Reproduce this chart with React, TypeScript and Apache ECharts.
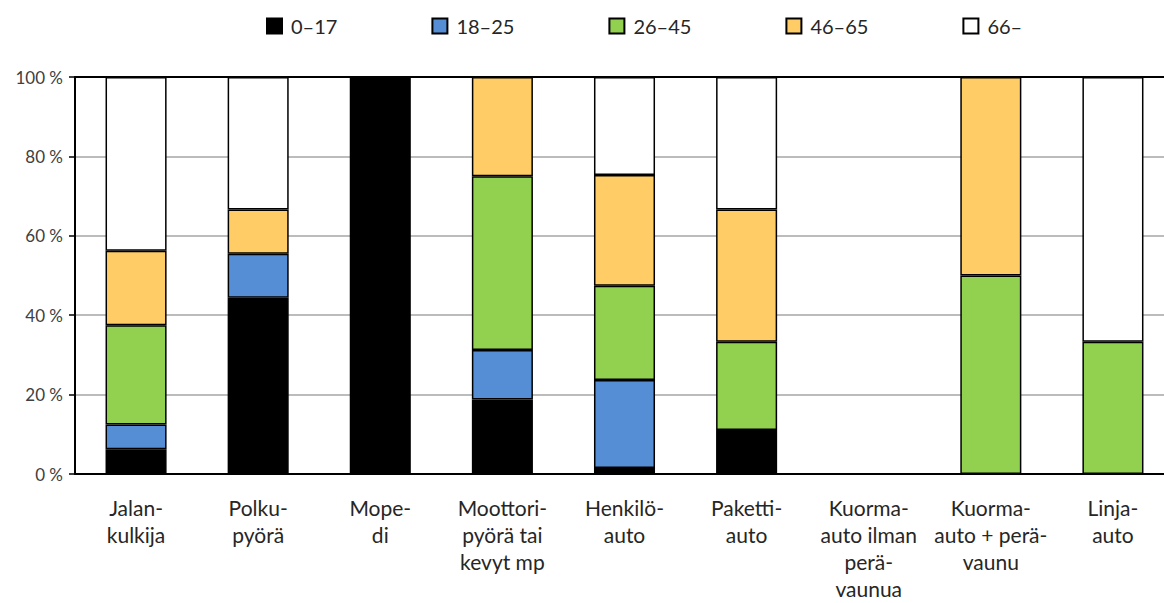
import React, { useEffect, useRef } from "react";
import * as echarts from "echarts";

const categories = [
  "Jalan-\nkulkija",
  "Polku-\npyörä",
  "Mope-\ndi",
  "Moottori-\npyörä tai\nkevyt mp",
  "Henkilö-\nauto",
  "Paketti-\nauto",
  "Kuorma-\nauto ilman\nperä-\nvaunua",
  "Kuorma-\nauto + perä-\nvaunu",
  "Linja-\nauto",
];

const seriesNames = ["0–17", "18–25", "26–45", "46–65", "66–"];

const age0to17 = [6.25, 44.4, 100, 18.75, 1.5, 11.1, null, null, null];
const age18to25 = [6.25, 11.1, null, 12.5, 22.2, null, null, null, null];
const age26to45 = [25, null, null, 43.75, 23.7, 22.2, null, 50, 33.3];
const age46to65 = [18.75, 11.1, null, 25, 27.9, 33.3, null, 50, null];
const age66plus = [43.75, 33.4, null, null, 24.7, 33.4, null, null, 66.7];

const yTicks = [0, 20, 40, 60, 80, 100];

const colors = ["#000000", "#558ED5", "#92D050", "#FFCC66", "#FFFFFF"];

export default function App() {
  const ref = useRef<HTMLDivElement>(null);
  useEffect(() => {
    if (!ref.current) return;
    const chart = echarts.init(ref.current, undefined, { renderer: "svg" });
    const values = [age0to17, age18to25, age26to45, age46to65, age66plus];
    chart.setOption({
      animation: false,
      backgroundColor: "#ffffff",
      textStyle: { fontFamily: "Lato" },
      legend: {
        left: 261,
        top: 11,
        itemWidth: 15,
        itemHeight: 15,
        itemGap: 94,
        icon: "rect",
        textStyle: { fontSize: 20, color: "#262626", fontFamily: "Lato", padding: [0, 0, 0, 4] },
        data: seriesNames,
      },
      grid: { left: 75, right: 0, top: 77, bottom: 129, containLabel: false },
      xAxis: [
        {
          type: "category",
          data: categories,
          axisLine: { show: true, lineStyle: { color: "#000000", width: 2 } },
          axisTick: { show: false },
          axisLabel: {
            interval: 0,
            fontSize: 21,
            lineHeight: 27,
            color: "#262626",
            margin: 20,
            fontFamily: "Lato",
          },
        },
        {
          type: "category",
          position: "top",
          data: categories,
          axisLine: { show: true, lineStyle: { color: "#000000", width: 2 } },
          axisTick: { show: false },
          axisLabel: { show: false },
        },
      ],
      yAxis: {
        type: "value",
        min: yTicks[0],
        max: yTicks[yTicks.length - 1],
        interval: 20,
        axisLine: { show: true, lineStyle: { color: "#000000", width: 2 } },
        axisTick: { show: true, length: 6, lineStyle: { color: "#000000", width: 1.5 } },
        axisLabel: {
          formatter: "{value} %",
          fontSize: 17,
          color: "#404040",
          margin: 12,
          fontFamily: "Lato",
        },
        splitLine: { show: true, lineStyle: { color: "#A6A6A6", width: 1.5 } },
      },
      series: seriesNames.map((name, i) => ({
        name,
        type: "bar",
        stack: "total",
        barWidth: "50%",
        data: values[i],
        itemStyle: { color: colors[i], borderColor: "#000000", borderWidth: 1.5 },
      })),
    });
    return () => chart.dispose();
  }, []);
  return (
    <div
      style={{
        position: "absolute",
        left: 0,
        top: 0,
        width: 1164,
        height: 603,
        overflow: "hidden",
        background: "#ffffff",
      }}
    >
      <div ref={ref} style={{ width: 1174, height: 603 }} />
    </div>
  );
}
